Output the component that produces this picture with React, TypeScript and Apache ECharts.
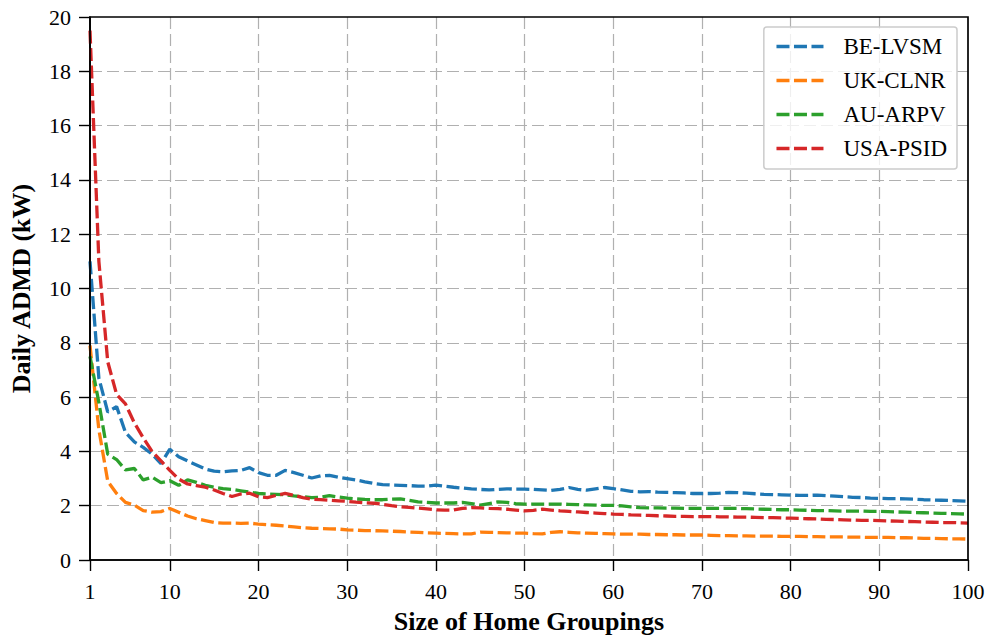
import React, { useEffect, useRef } from "react";
import * as echarts from "echarts";

const groupSizes: number[] = Array.from({ length: 100 }, (_, i) => i + 1);

const beLvsm: number[] = [
  11.0, 6.7, 5.45, 5.65, 4.7, 4.35, 4.15, 3.9, 3.55, 4.08,
  3.8, 3.65, 3.5, 3.35, 3.27, 3.25, 3.28, 3.3, 3.4, 3.22,
  3.12, 3.12, 3.3, 3.22, 3.12, 3.02, 3.1, 3.12, 3.05, 3.0,
  2.95, 2.88, 2.82, 2.78, 2.76, 2.75, 2.74, 2.72, 2.72, 2.76,
  2.72, 2.68, 2.65, 2.62, 2.6, 2.58, 2.6, 2.62, 2.61, 2.61,
  2.6, 2.58, 2.56, 2.6, 2.67, 2.6, 2.57, 2.62, 2.67, 2.63,
  2.58, 2.53, 2.51, 2.52, 2.5, 2.49, 2.48, 2.47, 2.45, 2.45,
  2.45, 2.46, 2.49, 2.48, 2.46, 2.44, 2.42, 2.41, 2.4, 2.39,
  2.38, 2.38, 2.39, 2.37, 2.35, 2.33, 2.31, 2.3, 2.28, 2.27,
  2.26, 2.26, 2.25, 2.24, 2.22, 2.21, 2.2, 2.19, 2.18, 2.16,
];

const ukClnr: number[] = [
  7.9, 4.8, 2.9, 2.45, 2.12, 2.02, 1.82, 1.76, 1.78, 1.9,
  1.76, 1.62, 1.52, 1.45, 1.38, 1.36, 1.36, 1.35, 1.36, 1.32,
  1.3, 1.28, 1.25, 1.22, 1.19, 1.17, 1.16, 1.15, 1.14, 1.11,
  1.1, 1.08, 1.08, 1.07, 1.06, 1.05, 1.03, 1.02, 1.0, 0.99,
  0.98, 0.97, 0.96, 0.96, 1.03, 1.02, 1.01, 1.0, 0.99, 0.99,
  0.97, 0.96, 1.02, 1.04, 1.02, 1.0, 0.99, 0.98, 0.97, 0.96,
  0.95, 0.95, 0.95, 0.94, 0.94, 0.93, 0.93, 0.92, 0.92, 0.92,
  0.91, 0.9, 0.9, 0.89, 0.89, 0.88, 0.88, 0.88, 0.87, 0.87,
  0.87, 0.86, 0.86, 0.85, 0.85, 0.85, 0.84, 0.84, 0.83, 0.83,
  0.83, 0.82, 0.82, 0.81, 0.8, 0.8, 0.79, 0.78, 0.78, 0.77,
];

const auArpv: number[] = [
  7.5, 5.8, 3.9, 3.7, 3.32, 3.37, 2.95, 3.05, 2.85, 2.92,
  2.75, 2.95, 2.86, 2.75, 2.68, 2.63, 2.6, 2.55, 2.5, 2.45,
  2.43, 2.42, 2.4, 2.36, 2.33, 2.3, 2.31, 2.37, 2.32, 2.28,
  2.25, 2.23, 2.22, 2.22, 2.24, 2.25, 2.2, 2.14, 2.12, 2.1,
  2.1, 2.1, 2.12, 2.08, 2.02, 2.08, 2.14, 2.12, 2.08, 2.06,
  2.06, 2.06, 2.06, 2.06, 2.05, 2.04, 2.03, 2.02, 2.01, 2.01,
  1.99, 1.96, 1.93, 1.92, 1.92, 1.91, 1.91, 1.9, 1.9, 1.9,
  1.9, 1.9, 1.9, 1.9, 1.89, 1.88, 1.87, 1.86, 1.85, 1.85,
  1.84, 1.83, 1.82, 1.82, 1.81, 1.8, 1.8, 1.8, 1.79, 1.79,
  1.78, 1.77, 1.76, 1.75, 1.74, 1.73, 1.72, 1.71, 1.7, 1.69,
];

const usaPsid: number[] = [
  19.5, 11.0, 7.3, 6.1, 5.75, 5.05, 4.5, 4.0, 3.65, 3.3,
  2.98, 2.8, 2.74, 2.68, 2.58, 2.45, 2.34, 2.43, 2.46, 2.33,
  2.3, 2.38, 2.45, 2.38, 2.3, 2.24, 2.22, 2.2, 2.18, 2.16,
  2.13, 2.11, 2.09, 2.05, 2.0, 1.96, 1.94, 1.91, 1.88, 1.85,
  1.84, 1.84, 1.9, 1.93, 1.92, 1.9, 1.89, 1.87, 1.84, 1.81,
  1.83, 1.87, 1.84, 1.81, 1.79, 1.77, 1.75, 1.73, 1.71, 1.69,
  1.68, 1.66, 1.65, 1.64, 1.63, 1.62, 1.61, 1.61, 1.6, 1.6,
  1.6, 1.59, 1.59, 1.58, 1.58, 1.57, 1.56, 1.56, 1.55, 1.54,
  1.53, 1.52, 1.51, 1.5, 1.49, 1.48, 1.47, 1.46, 1.46, 1.45,
  1.44, 1.43, 1.42, 1.41, 1.4, 1.39, 1.38, 1.38, 1.37, 1.36,
];

const seriesNames: string[] = ["BE-LVSM", "UK-CLNR", "AU-ARPV", "USA-PSID"];
const seriesColors: string[] = ["#1f77b4", "#ff7f0e", "#2ca02c", "#d62728"];
const xTickValues: number[] = [1, 10, 20, 30, 40, 50, 60, 70, 80, 90, 100];

const FONT = "'Liberation Serif', 'DejaVu Serif', serif";

export default function App() {
  const ref = useRef<HTMLDivElement>(null);

  useEffect(() => {
    if (!ref.current) return;
    const chart = echarts.init(ref.current, undefined, { renderer: "svg" });
    const allData = [beLvsm, ukClnr, auArpv, usaPsid];
    const gridLineStyle = { color: "#b0b0b0", width: 1.2, type: [12, 5] as any };

    chart.setOption({
      animation: false,
      backgroundColor: "#ffffff",
      grid: {
        left: 90,
        right: 21,
        top: 17,
        bottom: 78,
        show: true,
        borderColor: "#000",
        borderWidth: 1.7,
        backgroundColor: "transparent",
        z: 10,
      },
      legend: {
        right: 32,
        top: 27,
        orient: "vertical",
        backgroundColor: "rgba(255,255,255,0.8)",
        borderColor: "#cccccc",
        borderWidth: 1.5,
        borderRadius: 3,
        padding: [8, 10, 9, 11],
        itemWidth: 47,
        itemHeight: 20,
        itemGap: 11,
        itemStyle: { opacity: 0, color: "transparent", borderWidth: 0 },
        lineStyle: { width: 3.3, type: [13, 4.5] as any, cap: "butt" },
        textStyle: {
          fontFamily: FONT,
          fontSize: 23,
          color: "#000",
          padding: [0, 0, 0, 15],
        },
        data: seriesNames,
      },
      xAxis: {
        type: "value",
        min: 1,
        max: 100,
        name: "Size of Home Groupings",
        nameLocation: "middle",
        nameGap: 48,
        nameTextStyle: { fontFamily: FONT, fontSize: 26, fontWeight: "bold", color: "#000" },
        axisLine: { show: true, lineStyle: { color: "#000", width: 1.7 } },
        axisTick: { show: true, length: 11, lineStyle: { color: "#000", width: 1.4 }, customValues: xTickValues },
        axisLabel: { fontFamily: FONT, fontSize: 22, color: "#000", margin: 20, customValues: xTickValues },
        splitLine: { show: true, showMinLine: false, showMaxLine: false, lineStyle: gridLineStyle },
      },
      yAxis: {
        type: "value",
        min: 0,
        max: 20,
        interval: 2,
        name: "Daily ADMD (kW)",
        nameLocation: "middle",
        nameGap: 56,
        nameTextStyle: { fontFamily: FONT, fontSize: 26, fontWeight: "bold", color: "#000" },
        axisLine: { show: true, lineStyle: { color: "#000", width: 1.7 } },
        axisTick: { show: true, length: 11, lineStyle: { color: "#000", width: 1.4 } },
        axisLabel: { fontFamily: FONT, fontSize: 22, color: "#000", margin: 19 },
        splitLine: { show: true, showMinLine: false, showMaxLine: false, lineStyle: gridLineStyle },
      },
      series: seriesNames.map((name, k) => ({
        name,
        type: "line",
        data: groupSizes.map((x, i) => [x, allData[k][i]]),
        showSymbol: false,
        symbol: "none",
        color: seriesColors[k],
        lineStyle: { color: seriesColors[k], width: 3.3, type: [13, 4.5], cap: "butt" },
        z: 3 + k,
      })),
    });

    return () => chart.dispose();
  }, []);

  return <div ref={ref} style={{ width: 989, height: 639, position: "absolute", left: 0, top: 0 }} />;
}
